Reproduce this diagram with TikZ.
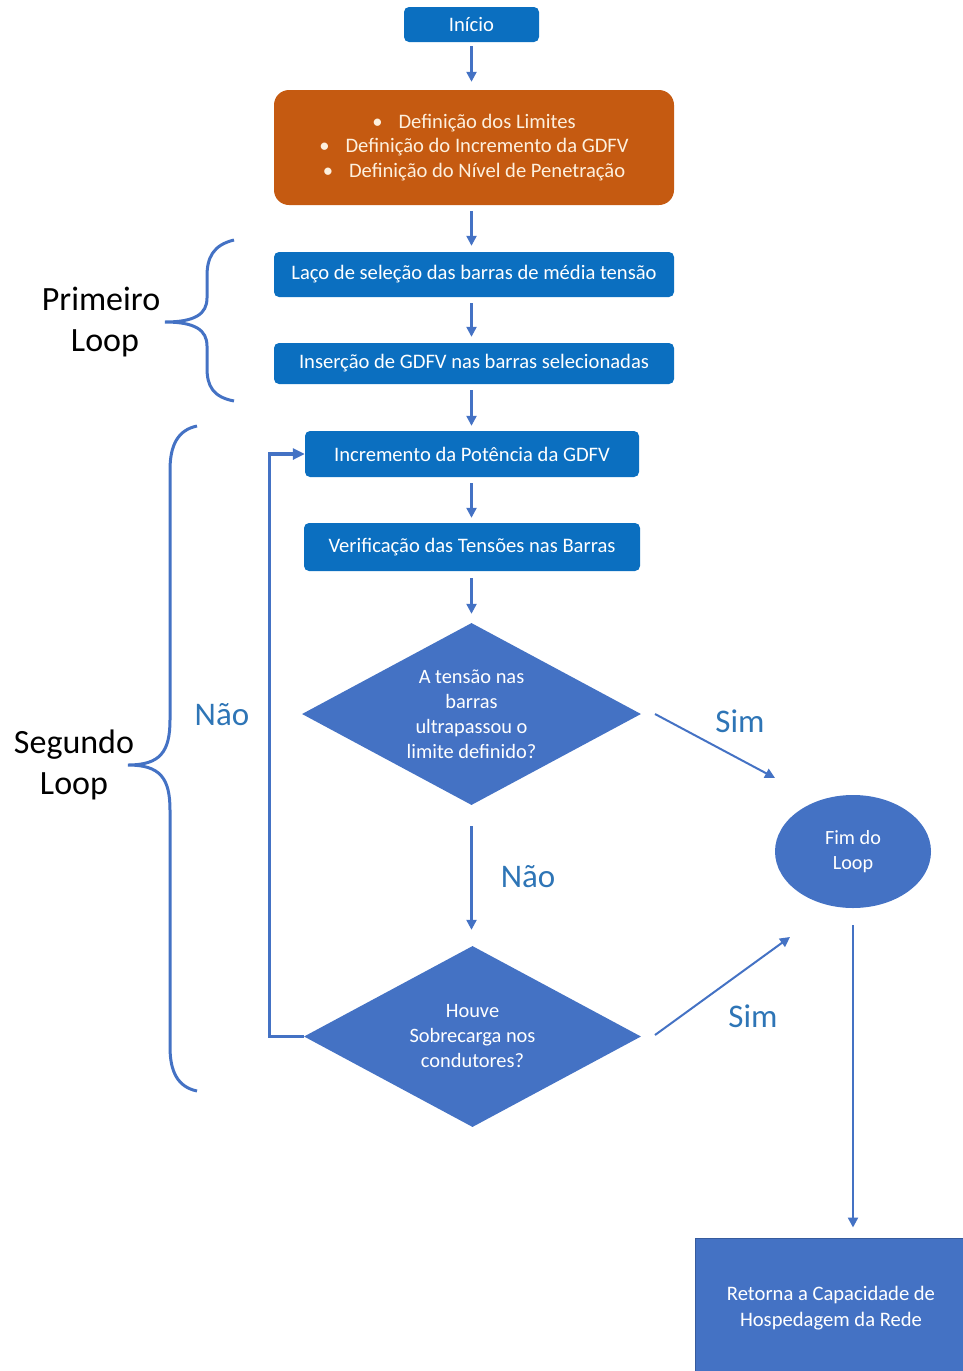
\documentclass[tikz,border=0pt]{standalone}
\usepackage{fontspec}
\setmainfont{Carlito}
\usetikzlibrary{shapes.geometric,arrows.meta}
\definecolor{boxblue}{HTML}{0B6FC0}
\definecolor{orng}{HTML}{C55A11}
\definecolor{midblue}{HTML}{4472C4}
\definecolor{lblblue}{HTML}{2E75B6}
\definecolor{cream}{RGB}{253,240,222}
\tikzset{
  bx/.style={rectangle, rounded corners=5pt, fill=boxblue, text=white, inner sep=0pt,
    font=\fontsize{20.6}{24.5}\selectfont, align=center},
  dia/.style={diamond, aspect=1.86, fill=midblue, text=white, inner sep=0pt,
    font=\fontsize{20.4}{25}\selectfont, align=center},
  arr/.style={draw=midblue, line width=2.3pt, -{Triangle[length=10pt,width=10pt]}},
  lbl/.style={text=lblblue, font=\fontsize{33}{40}\selectfont},
  side/.style={text=black, font=\fontsize{34}{41}\selectfont, align=center},
  brace/.style={draw=midblue, line width=3pt},
}
\begin{document}
\begin{tikzpicture}[x=1pt,y=-1pt]
\useasboundingbox (0,0) rectangle (962,1371);
\node[bx, minimum width=135pt, minimum height=35pt] (start) at (471.5,24.5) {Início};
\node[bx, rounded corners=15pt, fill=orng, text=cream, minimum width=400pt, minimum height=115pt] (lim) at (474,147.5)
  {•\hspace{16pt}Definição dos Limites\\ •\hspace{16pt}Definição do Incremento da GDFV\\ •\hspace{16pt}Definição do Nível de Penetração};
\node[bx, minimum width=400pt, minimum height=45pt] (b2) at (474,274.5) {Laço de seleção das barras de média tensão};
\node[bx, minimum width=400pt, minimum height=41pt] (b3) at (474,363.5) {Inserção de GDFV nas barras selecionadas};
\node[bx, minimum width=334pt, minimum height=46pt] (b4) at (472,454) {Incremento da Potência da GDFV};
\node[bx, minimum width=336pt, minimum height=48pt] (b5) at (472,547) {Verificação das Tensões nas Barras};
\node[dia, minimum width=339pt, minimum height=182pt] (d1) at (471.5,714) {A tensão nas\\ barras\\ ultrapassou o\\ limite definido?};
\node[dia, minimum width=337pt, minimum height=181pt] (d2) at (472.5,1036.5) {Houve\\ Sobrecarga nos\\ condutores?};
\node[ellipse, fill=midblue, text=white, inner sep=0pt, minimum width=156pt, minimum height=113pt,
  font=\fontsize{20.2}{25}\selectfont, align=center] (fim) at (853,851.5) {Fim do\\ Loop};
\node[rectangle, fill=midblue, draw=midblue!80!black, line width=1pt, text=white, inner sep=0pt,
  minimum width=272pt, minimum height=140pt, font=\fontsize{20.6}{26}\selectfont, align=center] (ret) at (831,1308)
  {Retorna a Capacidade de\\ Hospedagem da Rede};

% vertical arrows
\draw[arr, shorten <=4pt, shorten >=8pt] (start.south) -- (start.south |- lim.north);
\draw[arr, shorten <=6pt, shorten >=6pt] (start.south |- lim.south) -- (start.south |- b2.north);
\draw[arr, shorten <=6pt, shorten >=6pt] (start.south |- b2.south) -- (start.south |- b3.north);
\draw[arr, shorten <=6pt, shorten >=5pt] (start.south |- b3.south) -- (start.south |- b4.north);
\draw[arr, shorten <=6pt, shorten >=5pt] (start.south |- b4.south) -- (start.south |- b5.north);
\draw[arr, shorten <=7pt, shorten >=9pt] (start.south |- b5.south) -- (start.south |- d1.north);
\draw[arr, shorten <=21pt, shorten >=16pt] (d1.south) -- (start.south |- d2.north);
% loop back
\draw[draw=midblue, line width=3.3pt, -{Triangle[length=12pt,width=11pt]}] (d2.west) -- ++(-34,0) |- (b4.west);
% Sim arrows
\coordinate (s1a) at (655,714);
\coordinate (s1b) at (775,778);
\coordinate (s2a) at (655,1035);
\coordinate (s2b) at (790,937);
\draw[arr, line width=2pt] (s1a) -- (s1b);
\draw[arr, line width=2pt] (s2a) -- (s2b);
\draw[arr, shorten <=17pt, shorten >=10pt] (fim.south) -- (fim.south |- ret.north);
% labels
\node[lbl] (nao1) at (222,715) {Não};
\node[lbl] (nao2) at (528,877) {Não};
\node[lbl] (sim1) at (740,721) {Sim};
\node[lbl] (sim2) at (753,1016) {Sim};
\node[side] (pl) at (101,322.5) {Primeiro\\ \hspace*{8pt}Loop};
\node[side] (sl) at (74,764.5) {Segundo\\ Loop};
% braces
\draw[brace] (234,240) .. controls (213,245) and (207,258) .. (207,276) -- (207,298)
  .. controls (207,314) and (195,322) .. (165,322)
  .. controls (195,322) and (207,330) .. (207,346) -- (207,368)
  .. controls (207,386) and (213,397) .. (234,401);
\draw[brace] (197,426) .. controls (178,430) and (170,445) .. (170,470) -- (170,720)
  .. controls (170,752) and (160,765) .. (128,765)
  .. controls (160,765) and (170,778) .. (170,810) -- (170,1047)
  .. controls (170,1072) and (178,1087) .. (197,1091);
\end{tikzpicture}
\end{document}
